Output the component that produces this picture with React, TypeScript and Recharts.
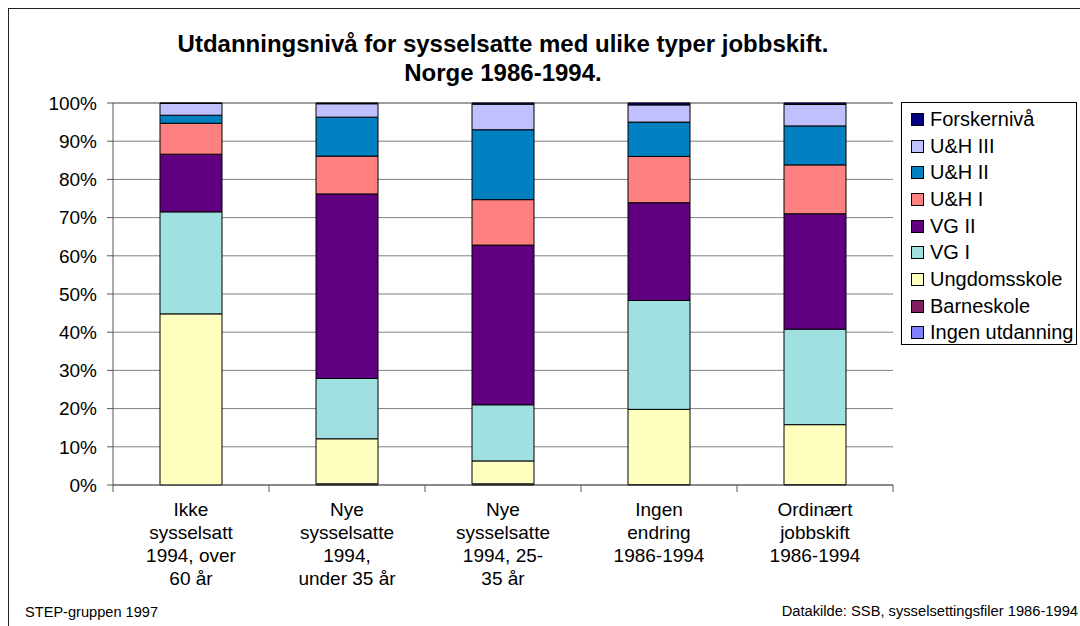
import React from "react";
import {
  BarChart,
  Bar,
  XAxis,
  YAxis,
  CartesianGrid,
} from "recharts";

const categories = [
  "Ikke\nsysselsatt\n1994, over\n60 år",
  "Nye\nsysselsatte\n1994,\nunder 35 år",
  "Nye\nsysselsatte\n1994, 25-\n35 år",
  "Ingen\nendring\n1986-1994",
  "Ordinært\njobbskift\n1986-1994",
];

// stacked from bottom to top, percent of each bar
const ingenUtdanning = [0, 0.1, 0.1, 0, 0];
const barneskole = [0, 0.2, 0.2, 0.1, 0.1];
const ungdomsskole = [44.8, 11.8, 6.0, 19.7, 15.7];
const vgI = [26.7, 15.8, 14.7, 28.5, 25.0];
const vgII = [15.1, 48.3, 41.8, 25.6, 30.2];
const uhI = [8.1, 9.9, 11.9, 12.1, 12.8];
const uhII = [2.1, 10.2, 18.3, 9.0, 10.2];
const uhIII = [3.1, 3.5, 6.7, 4.5, 5.6];
const forskerniva = [0.1, 0.2, 0.3, 0.5, 0.4];

const yTicks = [0, 10, 20, 30, 40, 50, 60, 70, 80, 90, 100];

const series = [
  { key: "Ingen utdanning", values: ingenUtdanning, color: "#8080FF" },
  { key: "Barneskole", values: barneskole, color: "#802060" },
  { key: "Ungdomsskole", values: ungdomsskole, color: "#FFFFC0" },
  { key: "VG I", values: vgI, color: "#A0E0E0" },
  { key: "VG II", values: vgII, color: "#600080" },
  { key: "U&H I", values: uhI, color: "#FF8080" },
  { key: "U&H II", values: uhII, color: "#0080C0" },
  { key: "U&H III", values: uhIII, color: "#C0C0FF" },
  { key: "Forskernivå", values: forskerniva, color: "#000080" },
];

const data = categories.map((name, i) => {
  const row: Record<string, string | number> = { name };
  series.forEach((s) => {
    row[s.key] = s.values[i];
  });
  return row;
});

const FONT = "'Liberation Sans', Arial, sans-serif";
const W = 1080;
const H = 626;
const MARGIN = { top: 103, right: 187, bottom: 0, left: 0 };
const Y_AXIS_W = 113;
const X_AXIS_H = 141;
const PLOT_W = W - MARGIN.left - MARGIN.right - Y_AXIS_W;

const CategoryTick = (props: any) => {
  const { x, y, payload, index } = props;
  const half = PLOT_W / categories.length / 2;
  const lines = String(payload.value).split("\n");
  return (
    <g>
      <line x1={x - half} y1={y} x2={x - half} y2={y + 7} stroke="#555" />
      {index === categories.length - 1 && (
        <line x1={x + half} y1={y} x2={x + half} y2={y + 7} stroke="#555" />
      )}
      <text
        x={x}
        y={y + 24}
        textAnchor="middle"
        fontFamily={FONT}
        fontSize={19}
        fill="#000"
      >
        {lines.map((l, i) => (
          <tspan key={i} x={x} dy={i === 0 ? "0.35em" : 23}>
            {l}
          </tspan>
        ))}
      </text>
    </g>
  );
};

const LegendBox = () => {
  const items = [...series].reverse();
  return (
    <div
      style={{
        position: "absolute",
        left: 901,
        top: 102,
        border: "1px solid #000",
        width: 176,
        height: 243,
        boxSizing: "border-box",
        background: "#fff",
        paddingTop: 3,
        fontFamily: FONT,
        fontSize: 20,
      }}
    >
      {items.map((s) => (
        <div
          key={s.key}
          style={{
            display: "flex",
            alignItems: "center",
            height: 26.7,
            paddingLeft: 9,
            whiteSpace: "nowrap",
          }}
        >
          <span
            style={{
              display: "inline-block",
              width: 11,
              height: 11,
              background: s.color,
              border: "1px solid #000",
              marginRight: 6,
            }}
          />
          {s.key}
        </div>
      ))}
    </div>
  );
};

export default function App() {
  return (
    <div
      style={{
        position: "absolute",
        left: 0,
        top: 0,
        width: W,
        height: H,
        overflow: "hidden",
        background: "#fff",
        fontFamily: FONT,
      }}
    >
      <div
        style={{
          position: "absolute",
          left: 8,
          top: 8,
          width: W,
          height: H,
          border: "1px solid #222",
        }}
      />
      <div
        style={{
          position: "absolute",
          left: 103,
          width: 800,
          top: 29,
          textAlign: "center",
          fontWeight: "bold",
          fontSize: 24,
          lineHeight: "29px",
        }}
      >
        Utdanningsnivå for sysselsatte med ulike typer jobbskift.
        <br />
        Norge 1986-1994.
      </div>
      <div style={{ position: "absolute", left: 0, top: 0 }}>
        <BarChart
          width={W}
          height={H}
          data={data}
          margin={MARGIN}
          barCategoryGap={0}
          barSize={62}
        >
          <CartesianGrid vertical={false} stroke="#808080" />
          <XAxis
            dataKey="name"
            interval={0}
            height={X_AXIS_H}
            tickLine={false}
            tickSize={0}
            tickMargin={0}
            axisLine={{ stroke: "#555" }}
            tick={<CategoryTick />}
          />
          <YAxis
            width={Y_AXIS_W}
            domain={[0, 100]}
            ticks={yTicks}
            interval={0}
            tickFormatter={(v: number) => `${v}%`}
            tickSize={6}
            tickMargin={10}
            axisLine={{ stroke: "#555" }}
            tickLine={{ stroke: "#555" }}
            tick={{ fill: "#000", fontSize: 19, fontFamily: FONT }}
          />
          <YAxis
            yAxisId="right"
            orientation="right"
            width={0}
            domain={[0, 100]}
            tick={false}
            tickLine={false}
            axisLine={{ stroke: "#808080" }}
          />
          {series.map((s) => (
            <Bar
              key={s.key}
              dataKey={s.key}
              stackId="a"
              fill={s.color}
              stroke="#000"
              strokeWidth={1}
              isAnimationActive={false}
            />
          ))}
        </BarChart>
      </div>
      <LegendBox />
      <div
        style={{
          position: "absolute",
          left: 25,
          top: 604,
          fontSize: 14.6,
        }}
      >
        STEP-gruppen 1997
      </div>
      <div
        style={{
          position: "absolute",
          right: 2,
          top: 603,
          fontSize: 14.7,
        }}
      >
        Datakilde: SSB, sysselsettingsfiler 1986-1994
      </div>
    </div>
  );
}
